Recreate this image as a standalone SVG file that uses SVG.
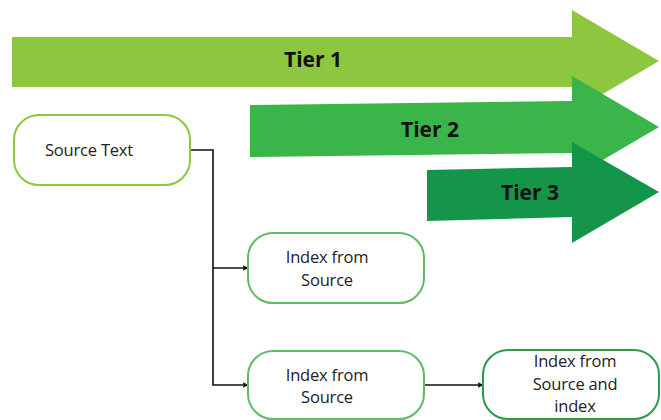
<svg xmlns="http://www.w3.org/2000/svg" width="661" height="420" viewBox="0 0 661 420">
<style>
.tier{font-family:"Open Sans","Liberation Sans",sans-serif;font-weight:bold;font-size:21px;fill:#111;text-anchor:middle}
.lbl{font-family:"Open Sans","Liberation Sans",sans-serif;font-size:16.5px;fill:#222;text-anchor:middle;letter-spacing:-0.2px}
.node{fill:#fff;stroke-width:2}
.conn{fill:none;stroke:#111;stroke-width:1.6}
</style>
<defs>
<marker id="ah" viewBox="0 0 10 10" refX="9" refY="5" markerWidth="6" markerHeight="6" orient="auto" markerUnits="userSpaceOnUse">
<path d="M0,0 L10,5 L0,10 L2,5 Z" fill="#111"/>
</marker>
</defs>
<rect width="661" height="420" fill="#fff"/>
<g id="tier1">
<polygon points="12,37 572,37 572,10 659,61 572,112 572,87 12,87" fill="#8DC63F"/>
<text class="tier" x="313" y="67">Tier 1</text>
</g>
<g id="tier2">
<polygon points="250,105 572,101 572,76 659,127 572,178 572,153 250,157" fill="#3AB54A"/>
<text class="tier" x="430" y="137">Tier 2</text>
</g>
<g id="tier3">
<polygon points="427,170 572,167 572,142 659,192 572,243 572,217 427,221" fill="#15954A"/>
<text class="tier" x="530" y="200">Tier 3</text>
</g>
<g id="connectors">
<path class="conn" d="M190,150 H213 V268 H248" marker-end="url(#ah)"/>
<path class="conn" d="M213,268 V385 H248" marker-end="url(#ah)"/>
<path class="conn" d="M424,385 H483" marker-end="url(#ah)"/>
</g>
<g id="source-text">
<rect class="node" x="14" y="115" width="176" height="70" rx="25" stroke="#8DC63F"/>
<text class="lbl" x="89" y="156">Source Text</text>
</g>
<g id="index-1">
<rect class="node" x="248" y="233" width="176" height="70" rx="25" stroke="#5DBB63"/>
<text class="lbl" x="327" y="263">Index from</text>
<text class="lbl" x="327" y="286">Source</text>
</g>
<g id="index-2">
<rect class="node" x="248" y="351" width="176" height="68" rx="25" stroke="#5DBB63"/>
<text class="lbl" x="327" y="381">Index from</text>
<text class="lbl" x="327" y="403">Source</text>
</g>
<g id="index-3">
<rect class="node" x="483" y="350" width="176" height="69" rx="25" stroke="#2E9A48"/>
<text class="lbl" x="575" y="367">Index from</text>
<text class="lbl" x="575" y="390">Source and</text>
<text class="lbl" x="575" y="412">index</text>
</g>
</svg>
